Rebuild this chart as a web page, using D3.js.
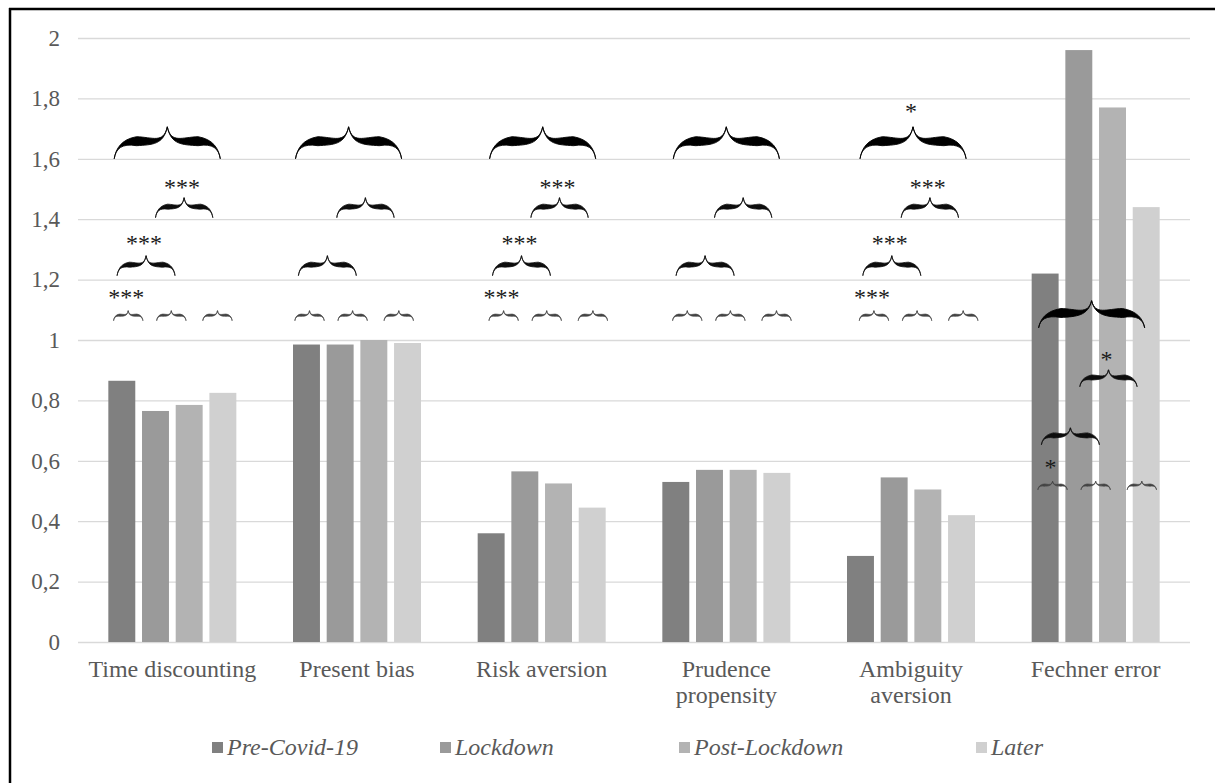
<!DOCTYPE html>
<html lang="en">
<head>
<meta charset="utf-8">
<title>Preferences before and after Covid-19</title>
<script src="https://cdn.jsdelivr.net/npm/d3@7"></script>
<style>
  body { margin: 0; background: #fff; }
  svg text { font-family: "Liberation Serif", "Times New Roman", serif; }
</style>
</head>
<body>
<script>
var categories = ["Time discounting", "Present bias", "Risk aversion", "Prudence propensity", "Ambiguity aversion", "Fechner error"];
var labelLines = [["Time discounting"], ["Present bias"], ["Risk aversion"], ["Prudence", "propensity"], ["Ambiguity", "aversion"], ["Fechner error"]];
var series = ["Pre-Covid-19", "Lockdown", "Post-Lockdown", "Later"];

var preCovid     = [0.865, 0.985, 0.36, 0.53, 0.285, 1.22];
var lockdown     = [0.765, 0.985, 0.565, 0.57, 0.545, 1.96];
var postLockdown = [0.785, 1.0, 0.525, 0.57, 0.505, 1.77];
var later        = [0.825, 0.99, 0.445, 0.56, 0.42, 1.44];

var yTicks = [0, 0.2, 0.4, 0.6, 0.8, 1, 1.2, 1.4, 1.6, 1.8, 2];

// significance braces per category: level of the top brace and stars per brace row
var braceBase  = [1.6, 1.6, 1.6, 1.6, 1.6, 1.04];
var braceShift = [-0.15, -0.25, 0.03, 0, 0.06, -0.12];
var braceSquash = [1, 1, 1, 1, 1, 0.85];
var starsBig   = ["", "", "", "", "*", ""];
var starsMid   = ["***", "", "***", "", "***", "*"];
var starsLow   = ["***", "", "***", "", "***", ""];
var starsSmall = ["***", "", "***", "", "***", "*"];

var colors = ["#808080", "#9a9a9a", "#b3b3b3", "#d0d0d0"];
var values = [preCovid, lockdown, postLockdown, later];

var W = 1215, H = 783;
var svg = d3.select("body").append("svg").attr("width", W).attr("height", H);

// frame
svg.append("line").attr("x1", 10).attr("x2", 10).attr("y1", 8).attr("y2", H)
  .attr("stroke", "#000").attr("stroke-width", 2.5);
svg.append("line").attr("x1", 9).attr("x2", W).attr("y1", 9).attr("y2", 9)
  .attr("stroke", "#000").attr("stroke-width", 2.5);

var x0 = d3.scaleBand().domain(categories).range([80, 1188]);
var inner = 128;
var x1 = d3.scaleBand().domain(series).range([0, inner]).paddingInner(0.2);
var y = d3.scaleLinear().domain([0, 2]).range([642, 38]);

// grid + y labels
var yAxis = d3.axisLeft(y).tickValues(yTicks)
  .tickSize(-(1190 - 78)).tickPadding(18)
  .tickFormat(function(d) { return String(d).replace(".", ","); });
var ga = svg.append("g").attr("transform", "translate(78,0)").call(yAxis);
ga.select(".domain").remove();
ga.selectAll(".tick line").attr("stroke", "#d9d9d9").attr("stroke-width", 1.3);
ga.selectAll(".tick text").attr("fill", "#595959").attr("font-size", 23);

// bars
var groups = svg.selectAll("g.cat").data(categories).enter().append("g")
  .attr("class", "cat")
  .attr("transform", function(d) { return "translate(" + (x0(d) + (x0.bandwidth() - inner) / 2) + ",0)"; });

groups.selectAll("rect").data(function(d, i) {
    return series.map(function(s, j) { return { s: s, v: values[j][i], j: j }; });
  }).enter().append("rect")
  .attr("x", function(d) { return x1(d.s); })
  .attr("width", x1.bandwidth())
  .attr("y", function(d) { return y(d.v); })
  .attr("height", function(d) { return y(0) - y(d.v); })
  .attr("fill", function(d) { return colors[d.j]; });

// category labels
svg.selectAll("text.cat").data(categories).enter().append("text")
  .attr("class", "cat")
  .attr("x", function(d) { return x0(d) + x0.bandwidth() / 2; })
  .attr("y", 677)
  .attr("text-anchor", "middle")
  .attr("font-size", 24)
  .attr("fill", "#595959")
  .each(function(d, i) {
    var t = d3.select(this);
    labelLines[i].forEach(function(line, k) {
      t.append("tspan").attr("x", x0(d) + x0.bandwidth() / 2).attr("dy", k ? 26 : 0).text(line);
    });
  });

// braces
var blur = svg.append("defs").append("filter").attr("id", "soft");
blur.append("feGaussianBlur").attr("stdDeviation", 0.6);

function bracePath(xa, xb, yb, h, t) {
  var hw = (xb - xa) / 2, tv = t / h;
  var cl = [[0, 0], [0.03, 0.32], [0.14, 0.55], [0.42, 0.55], [0.72, 0.56], [0.93, 0.45], [1, 1]];
  var off = [0, 0.02, 0.22, 0.5, 0.42, 0.04, 0];
  function pt(i, sg, side) {
    var u = cl[i][0], v = cl[i][1] + sg * off[i] * tv;
    var px = side < 0 ? xa + u * hw : xb - u * hw;
    return px.toFixed(1) + "," + (yb - v * h).toFixed(1);
  }
  return "M" + pt(0, 0, -1) +
    "C" + pt(1, 1, -1) + " " + pt(2, 1, -1) + " " + pt(3, 1, -1) +
    "C" + pt(4, 1, -1) + " " + pt(5, 1, -1) + " " + pt(6, 0, -1) +
    "C" + pt(5, 1, 1) + " " + pt(4, 1, 1) + " " + pt(3, 1, 1) +
    "C" + pt(2, 1, 1) + " " + pt(1, 1, 1) + " " + pt(0, 0, 1) +
    "C" + pt(1, -1, 1) + " " + pt(2, -1, 1) + " " + pt(3, -1, 1) +
    "C" + pt(4, -1, 1) + " " + pt(5, -1, 1) + " " + pt(6, 0, 1) +
    "C" + pt(5, -1, -1) + " " + pt(4, -1, -1) + " " + pt(3, -1, -1) +
    "C" + pt(2, -1, -1) + " " + pt(1, -1, -1) + " " + pt(0, 0, -1) + "Z";
}

var braceRows = [
  { drop: 0,     centers: [0],                 width: 3.15, h: 32, t: 9,   stars: starsBig,   gap: 20, color: "#000", sw: 0.9 },
  { drop: 0.195, centers: [0.5],               width: 1.7,  h: 20, t: 5,   stars: starsMid,   gap: 15, color: "#111", sw: 0.8 },
  { drop: 0.387, centers: [-0.63],             width: 1.72, h: 20, t: 5,   stars: starsLow,   gap: 17, color: "#111", sw: 0.8 },
  { drop: 0.536, centers: [-1.16, 0.12, 1.49], width: 0.87, h: 10, t: 2.2, stars: starsSmall, gap: 18, color: "#444", sw: 0.7 }
];

function slotX(g, u) {
  return x0(categories[g]) + x0.bandwidth() / 2 + (u + braceShift[g]) * x1.step();
}

var braces = [], stars = [];
categories.forEach(function(c, g) {
  braceRows.forEach(function(row) {
    var yb = y(braceBase[g] - row.drop);
    var h = row.h * braceSquash[g];
    row.centers.forEach(function(cu, k) {
      braces.push({
        xa: slotX(g, cu - row.width / 2), xb: slotX(g, cu + row.width / 2),
        yb: yb, h: h, t: row.t, color: row.color, sw: row.sw
      });
      if (k === 0 && row.stars[g]) {
        stars.push({ x: slotX(g, cu) - 2, y: yb - h - row.gap + 12, text: row.stars[g] });
      }
    });
  });
});

var gb = svg.append("g").attr("filter", "url(#soft)");
gb.selectAll("path").data(braces).enter().append("path")
  .attr("d", function(d) { return bracePath(d.xa, d.xb, d.yb, d.h, d.t); })
  .attr("fill", function(d) { return d.color; })
  .attr("stroke", function(d) { return d.color; })
  .attr("stroke-width", function(d) { return d.sw; })
  .attr("stroke-linejoin", "round");

svg.selectAll("text.star").data(stars).enter().append("text")
  .attr("class", "star")
  .attr("x", function(d) { return d.x; })
  .attr("y", function(d) { return d.y; })
  .attr("text-anchor", "middle")
  .attr("font-size", 24)
  .attr("fill", "#1a1a1a")
  .text(function(d) { return d.text; });

// legend
var legendX = [212, 440, 679, 976];
var lg = svg.selectAll("g.leg").data(series).enter().append("g")
  .attr("class", "leg")
  .attr("transform", function(d, i) { return "translate(" + legendX[i] + ",742)"; });
lg.append("rect").attr("width", 11).attr("height", 11)
  .attr("fill", function(d, i) { return colors[i]; });
lg.append("text").attr("x", 15).attr("y", 13)
  .attr("font-size", 24).attr("font-style", "italic").attr("fill", "#595959")
  .text(function(d) { return d; });
</script>
</body>
</html>
